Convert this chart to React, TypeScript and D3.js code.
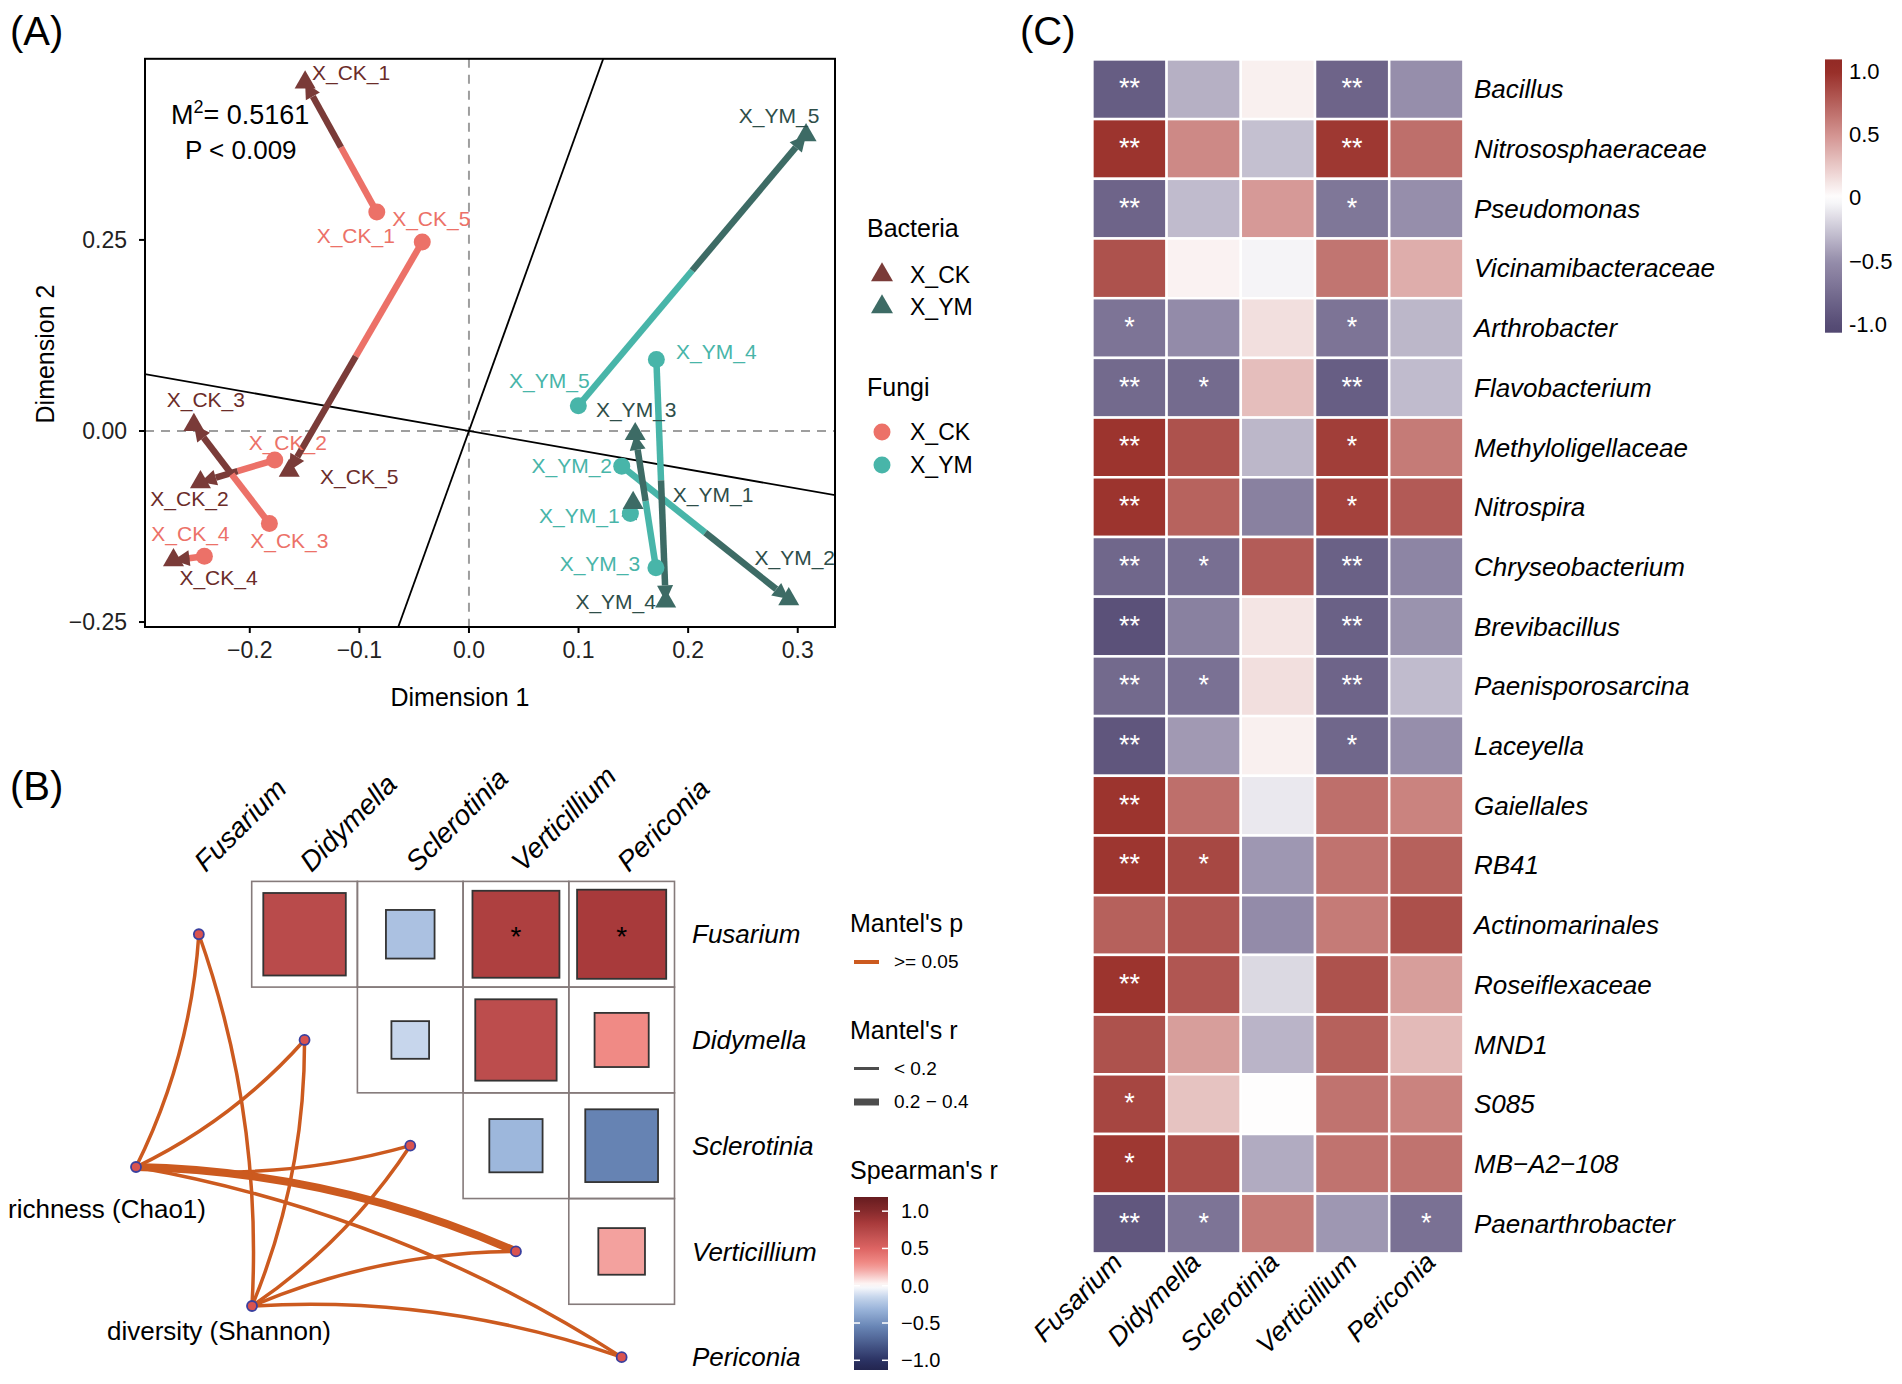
import React from 'react';
import * as d3 from 'd3';

const FONT = '"Liberation Sans", Arial, Helvetica, sans-serif';

// ---------------- Panel A data (Procrustes) ----------------
const sampleIds = ['X_CK_1', 'X_CK_2', 'X_CK_3', 'X_CK_4', 'X_CK_5', 'X_YM_1', 'X_YM_2', 'X_YM_3', 'X_YM_4', 'X_YM_5'];
const sampleGroup = ['X_CK', 'X_CK', 'X_CK', 'X_CK', 'X_CK', 'X_YM', 'X_YM', 'X_YM', 'X_YM', 'X_YM'];
const bacteriaDim1 = [-0.1495, -0.245, -0.251, -0.2696, -0.164, 0.1498, 0.2918, 0.1517, 0.1795, 0.3076];
const bacteriaDim2 = [0.456, -0.067, 0.008, -0.169, -0.052, -0.094, -0.22, -0.004, -0.223, 0.387];
const fungiDim1 = [-0.0841, -0.1772, -0.1821, -0.2414, -0.0426, 0.1473, 0.1394, 0.1706, 0.171, 0.0998];
const fungiDim2 = [0.2864, -0.038, -0.121, -0.164, 0.2474, -0.108, -0.046, -0.179, 0.0935, 0.033];
const rotationSlope = -0.2516;
const m2Text = '0.5161';
const pText = 'P < 0.009';
const xTicksA = [-0.2, -0.1, 0.0, 0.1, 0.2, 0.3];
const yTicksA = [-0.25, 0.0, 0.25];
// label nudges in pixels (layout)
const bacLabelNudge: [number, number][] = [[46, -10], [-11, 16], [12, -25], [45, 18], [70, 6], [80, -8], [6, -41], [1, -24], [-50, 0], [-27, -20]];
const funLabelNudge: [number, number][] = [[-21, 24], [13, -17], [20, 17], [-14, -23], [9, -23], [-51, 2], [-50, 0], [-56, -4], [60, -8], [-29, -25]];

// ---------------- Panel B data (Mantel + Spearman) ----------------
const fungiTaxa = ['Fusarium', 'Didymella', 'Sclerotinia', 'Verticillium', 'Periconia'];
const spRowVar = ['Fusarium', 'Fusarium', 'Fusarium', 'Fusarium', 'Didymella', 'Didymella', 'Didymella', 'Sclerotinia', 'Sclerotinia', 'Verticillium'];
const spColVar = ['Didymella', 'Sclerotinia', 'Verticillium', 'Periconia', 'Sclerotinia', 'Verticillium', 'Periconia', 'Verticillium', 'Periconia', 'Periconia'];
const spR = [0.72, -0.25, 0.8, 0.84, -0.15, 0.7, 0.31, -0.3, -0.56, 0.23];
const spSig = ['', '', '*', '*', '', '', '', '', '', ''];
const envNames = ['richness (Chao1)', 'diversity (Shannon)'];
const mantelEnv = ['richness (Chao1)', 'richness (Chao1)', 'richness (Chao1)', 'richness (Chao1)', 'richness (Chao1)',
  'diversity (Shannon)', 'diversity (Shannon)', 'diversity (Shannon)', 'diversity (Shannon)', 'diversity (Shannon)'];
const mantelSpec = ['Fusarium', 'Didymella', 'Sclerotinia', 'Verticillium', 'Periconia',
  'Fusarium', 'Didymella', 'Sclerotinia', 'Verticillium', 'Periconia'];
const mantelR = [0.08, 0.1, 0.15, 0.27, 0.12, 0.05, 0.09, 0.07, 0.11, 0.06];
const mantelP = [0.42, 0.35, 0.21, 0.08, 0.3, 0.66, 0.47, 0.52, 0.39, 0.58];
const bBarTicks = [1.0, 0.5, 0.0, -0.5, -1.0];

// ---------------- Panel C data (heatmap) ----------------
const bacteriaTaxa = ['Bacillus', 'Nitrososphaeraceae', 'Pseudomonas', 'Vicinamibacteraceae', 'Arthrobacter', 'Flavobacterium',
  'Methyloligellaceae', 'Nitrospira', 'Chryseobacterium', 'Brevibacillus', 'Paenisporosarcina', 'Laceyella', 'Gaiellales',
  'RB41', 'Actinomarinales', 'Roseiflexaceae', 'MND1', 'S085', 'MB\u2212A2\u2212108', 'Paenarthrobacter'];
const heatR: number[][] = [
  [-0.88, -0.35, 0.07, -0.82, -0.5],
  [0.97, 0.55, -0.28, 0.95, 0.68],
  [-0.82, -0.3, 0.47, -0.68, -0.5],
  [0.82, 0.06, -0.05, 0.65, 0.38],
  [-0.7, -0.52, 0.15, -0.7, -0.32],
  [-0.78, -0.77, 0.3, -0.87, -0.3],
  [0.97, 0.82, -0.32, 0.92, 0.62],
  [0.97, 0.74, -0.6, 0.9, 0.78],
  [-0.8, -0.74, 0.77, -0.85, -0.57],
  [-0.97, -0.6, 0.12, -0.85, -0.48],
  [-0.78, -0.72, 0.15, -0.82, -0.3],
  [-0.93, -0.45, 0.07, -0.8, -0.5],
  [0.97, 0.68, -0.1, 0.68, 0.58],
  [0.96, 0.87, -0.46, 0.66, 0.75],
  [0.75, 0.8, -0.52, 0.62, 0.83],
  [0.97, 0.8, -0.17, 0.82, 0.45],
  [0.82, 0.45, -0.33, 0.75, 0.32],
  [0.88, 0.28, 0.01, 0.66, 0.58],
  [0.95, 0.84, -0.37, 0.66, 0.66],
  [-0.92, -0.7, 0.62, -0.46, -0.72],
];
const heatSig: string[][] = [
  ['**', '', '', '**', ''],
  ['**', '', '', '**', ''],
  ['**', '', '', '*', ''],
  ['', '', '', '', ''],
  ['*', '', '', '*', ''],
  ['**', '*', '', '**', ''],
  ['**', '', '', '*', ''],
  ['**', '', '', '*', ''],
  ['**', '*', '', '**', ''],
  ['**', '', '', '**', ''],
  ['**', '*', '', '**', ''],
  ['**', '', '', '*', ''],
  ['**', '', '', '', ''],
  ['**', '*', '', '', ''],
  ['', '', '', '', ''],
  ['**', '', '', '', ''],
  ['', '', '', '', ''],
  ['*', '', '', '', ''],
  ['*', '', '', '', ''],
  ['**', '*', '', '', '*'],
];
const cBarTicks = [1.0, 0.5, 0, -0.5, -1.0];
const cBarLabels = ['1.0', '0.5', '0', '\u22120.5', '-1.0'];

// ---------------- colours ----------------
const colBacCK = '#7A3B38';
const colBacYM = '#3D6B65';
const colFunCK = '#EC7168';
const colFunYM = '#48B5A9';
const colLblBacCK = '#6B2C29';
const colLblBacYM = '#2E4E49';
const linkColor = '#CC5A1F';

const bScale = d3.scaleLinear<string>()
  .domain([-1.13, -1, -0.56, -0.3, -0.15, 0, 0.23, 0.31, 0.5, 0.72, 0.84, 1, 1.19])
  .range(['#232650', '#2B3263', '#6683B3', '#9DB7DC', '#C7D6EC', '#FFFFFF', '#F3A19E', '#F08A85', '#DD6463', '#B94B4B', '#A83A3B', '#862A2C', '#661C1F'])
  .interpolate(d3.interpolateRgb);
const cScale = d3.scaleLinear<string>()
  .domain([-1.1, -1, -0.5, 0, 0.5, 1, 1.1])
  .range(['#50466F', '#574D76', '#968EAB', '#FFFFFF', '#D39390', '#982E28', '#922A25'])
  .interpolate(d3.interpolateRgb);

const fmtMinus = (s: string) => s.replace('-', '\u2212');

function PanelA() {
  const x = d3.scaleLinear().domain([-0.2956, 0.334]).range([145, 835]);
  const y = d3.scaleLinear().domain([-0.2565, 0.487]).range([627, 58.8]);
  const [x0, x1] = x.range();
  const [y0, y1] = y.range();
  const tri = (cx: number, cy: number, s: number) => {
    const h = s * Math.sqrt(3) / 2;
    return `M${cx},${cy - (2 * h) / 3}L${cx + s / 2},${cy + h / 3}L${cx - s / 2},${cy + h / 3}Z`;
  };
  const m = rotationSlope;
  const big = 3;
  return (
    <g>
      <text x={10} y={45} fontSize={40}>(A)</text>
      <defs>
        <clipPath id="clipA"><rect x={x0} y={y1} width={x1 - x0} height={y0 - y1} /></clipPath>
      </defs>
      <g clipPath="url(#clipA)">
        <line x1={x(0)} x2={x(0)} y1={y1} y2={y0} stroke="#9E9E9E" strokeWidth={2} strokeDasharray="9,7" />
        <line x1={x0} x2={x1} y1={y(0)} y2={y(0)} stroke="#9E9E9E" strokeWidth={2} strokeDasharray="9,7" />
        <line x1={x(-big)} y1={y(-big * m)} x2={x(big)} y2={y(big * m)} stroke="#000" strokeWidth={1.8} />
        <line x1={x(big * m)} y1={y(-big)} x2={x(-big * m)} y2={y(big)} stroke="#000" strokeWidth={1.8} />
        {sampleIds.map((id, i) => {
          const bx = x(bacteriaDim1[i]), by = y(bacteriaDim2[i]);
          const fx = x(fungiDim1[i]), fy = y(fungiDim2[i]);
          const mx = (bx + fx) / 2, my = (by + fy) / 2;
          const ck = sampleGroup[i] === 'X_CK';
          const dark = ck ? colBacCK : colBacYM;
          const light = ck ? colFunCK : colFunYM;
          const ang = Math.atan2(by - fy, bx - fx);
          const L = 16, Wd = 8;
          const ax = bx - L * Math.cos(ang), ay = by - L * Math.sin(ang);
          const p1 = [ax + Wd * Math.sin(ang), ay - Wd * Math.cos(ang)];
          const p2 = [ax - Wd * Math.sin(ang), ay + Wd * Math.cos(ang)];
          return (
            <g key={id}>
              <line x1={fx} y1={fy} x2={mx} y2={my} stroke={light} strokeWidth={6.5} />
              <line x1={mx} y1={my} x2={ax} y2={ay} stroke={dark} strokeWidth={6.5} />
              <path d={`M${bx},${by}L${p1[0]},${p1[1]}L${p2[0]},${p2[1]}Z`} fill={dark} />
            </g>
          );
        })}
        {sampleIds.map((id, i) => {
          const ck = sampleGroup[i] === 'X_CK';
          return (
            <g key={'p' + id}>
              <circle cx={x(fungiDim1[i])} cy={y(fungiDim2[i])} r={8.5} fill={ck ? colFunCK : colFunYM} />
              <path d={tri(x(bacteriaDim1[i]), y(bacteriaDim2[i]), 21)} fill={ck ? colBacCK : colBacYM} />
            </g>
          );
        })}
      </g>
      {sampleIds.map((id, i) => {
        const ck = sampleGroup[i] === 'X_CK';
        return (
          <g key={'l' + id} fontSize={21} textAnchor="middle">
            <text x={x(bacteriaDim1[i]) + bacLabelNudge[i][0]} y={y(bacteriaDim2[i]) + bacLabelNudge[i][1]} dy="0.35em" fill={ck ? colLblBacCK : colLblBacYM}>{id}</text>
            <text x={x(fungiDim1[i]) + funLabelNudge[i][0]} y={y(fungiDim2[i]) + funLabelNudge[i][1]} dy="0.35em" fill={ck ? colFunCK : colFunYM}>{id}</text>
          </g>
        );
      })}
      <text x={171} y={124} fontSize={27}>M<tspan dy={-11} fontSize={18}>2</tspan><tspan dy={11}>= {m2Text}</tspan></text>
      <text x={185} y={159} fontSize={26}>{pText}</text>
      <rect x={x0} y={y1} width={x1 - x0} height={y0 - y1} fill="none" stroke="#000" strokeWidth={2} />
      {xTicksA.map((t) => (
        <g key={'xt' + t}>
          <line x1={x(t)} x2={x(t)} y1={y0} y2={y0 + 6} stroke="#000" strokeWidth={2} />
          <text x={x(t)} y={y0 + 31} fontSize={23} textAnchor="middle" fill="#222">{fmtMinus(t.toFixed(1))}</text>
        </g>
      ))}
      {yTicksA.map((t) => (
        <g key={'yt' + t}>
          <line x1={x0 - 6} x2={x0} y1={y(t)} y2={y(t)} stroke="#000" strokeWidth={2} />
          <text x={x0 - 18} y={y(t)} dy="0.35em" fontSize={23} textAnchor="end" fill="#222">{fmtMinus(t.toFixed(2))}</text>
        </g>
      ))}
      <text x={460} y={706} fontSize={25} textAnchor="middle">Dimension 1</text>
      <text transform="translate(54,354) rotate(-90)" fontSize={25} textAnchor="middle">Dimension 2</text>
      {/* legend */}
      <g fontSize={23}>
        <text x={867} y={237} fontSize={25}>Bacteria</text>
        <path d={tri(882, 275, 22)} fill={colBacCK} />
        <text x={910} y={283}>X_CK</text>
        <path d={tri(882, 307, 22)} fill={colBacYM} />
        <text x={910} y={315}>X_YM</text>
        <text x={867} y={396} fontSize={25}>Fungi</text>
        <circle cx={882} cy={432} r={8.5} fill={colFunCK} />
        <text x={910} y={440}>X_CK</text>
        <circle cx={882} cy={465} r={8.5} fill={colFunYM} />
        <text x={910} y={473}>X_YM</text>
      </g>
    </g>
  );
}

function PanelB() {
  const xb = d3.scaleBand<string>().domain(fungiTaxa).range([146, 674.5]);
  const yb = d3.scaleBand<string>().domain(fungiTaxa).range([881.4, 1410]);
  const bw = xb.bandwidth();
  const envX = [136, 252];
  const envY = [1167, 1306];
  const nodeOf = (name: string) => ({ x: xb(name)! + bw / 2, y: yb(name)! + bw / 2 });
  const sizeScale = d3.scaleSqrt().domain([0, 1]).range([0, bw * 0.92]);
  const widthScale = d3.scaleThreshold<number, number>().domain([0.2, 0.4]).range([3.5, 8, 10]);
  const barTop = 1197, barBot = 1370;
  const barScale = d3.scaleLinear().domain([-1.13, 1.19]).range([barBot, barTop]);
  const gradStops = d3.range(0, 41).map((k) => -1.13 + (k / 40) * (1.19 + 1.13));
  return (
    <g>
      <text x={10} y={800} fontSize={40}>(B)</text>
      {/* grid cells */}
      {fungiTaxa.map((r, i) => fungiTaxa.map((c, j) => (j > i ? (
        <rect key={r + c} x={xb(c)} y={yb(r)} width={bw} height={bw} fill="none" stroke="#857B7B" strokeWidth={1.6} />
      ) : null)))}
      {spR.map((v, k) => {
        const s = sizeScale(Math.abs(v));
        const cx = xb(spColVar[k])! + bw / 2, cy = yb(spRowVar[k])! + bw / 2;
        return (
          <g key={'sq' + k}>
            <rect x={cx - s / 2} y={cy - s / 2} width={s} height={s} fill={bScale(v)} stroke="#333" strokeWidth={1.8} />
            {spSig[k] ? <text x={cx} y={cy + 12} fontSize={28} textAnchor="middle" fill="#000">{spSig[k]}</text> : null}
          </g>
        );
      })}
      {/* links */}
      {mantelR.map((r, k) => {
        const ei = envNames.indexOf(mantelEnv[k]);
        const sx = envX[ei], sy = envY[ei];
        const t = nodeOf(mantelSpec[k]);
        const dx = t.x - sx, dy = t.y - sy;
        const sign = fungiTaxa.indexOf(mantelSpec[k]) < 3 ? -1 : 1;
        const c = 0.1 * sign;
        const qx = (sx + t.x) / 2 + c * dy, qy = (sy + t.y) / 2 - c * dx;
        return (
          <path key={'lk' + k} d={`M${sx},${sy}Q${qx},${qy} ${t.x},${t.y}`} fill="none"
            stroke={mantelP[k] >= 0.05 ? linkColor : '#1B9E77'} strokeWidth={widthScale(r)} />
        );
      })}
      {fungiTaxa.map((n) => {
        const p = nodeOf(n);
        return <circle key={'nd' + n} cx={p.x} cy={p.y} r={5} fill="#D9534F" stroke="#3A3F9E" strokeWidth={1.8} />;
      })}
      {envNames.map((n, i) => (
        <circle key={'en' + n} cx={envX[i]} cy={envY[i]} r={5} fill="#D9534F" stroke="#3A3F9E" strokeWidth={1.8} />
      ))}
      <text x={8} y={1218} fontSize={26}>{envNames[0]}</text>
      <text x={107} y={1340} fontSize={26}>{envNames[1]}</text>
      {/* column labels */}
      {fungiTaxa.map((n) => (
        <text key={'cl' + n} transform={`translate(${xb(n)! + bw / 2 + 7},${873}) rotate(-45)`} fontSize={28} fontStyle="italic">{n}</text>
      ))}
      {fungiTaxa.map((n) => (
        <text key={'rl' + n} x={692} y={yb(n)! + bw / 2} dy="0.35em" fontSize={26} fontStyle="italic">{n}</text>
      ))}
      {/* legends */}
      <text x={850} y={932} fontSize={25}>Mantel's p</text>
      <line x1={854} x2={879} y1={962} y2={962} stroke={linkColor} strokeWidth={4} />
      <text x={894} y={968} fontSize={19}>&gt;= 0.05</text>
      <text x={850} y={1039} fontSize={25}>Mantel's r</text>
      <line x1={854} x2={879} y1={1068.5} y2={1068.5} stroke="#4D4D4D" strokeWidth={3} />
      <text x={894} y={1075} fontSize={19}>&lt; 0.2</text>
      <line x1={854} x2={879} y1={1102} y2={1102} stroke="#4D4D4D" strokeWidth={7} />
      <text x={894} y={1108} fontSize={19}>0.2 − 0.4</text>
      <text x={850} y={1179} fontSize={25}>Spearman's r</text>
      <defs>
        <linearGradient id="gradB" x1="0" y1="1" x2="0" y2="0">
          {gradStops.map((v, k) => (
            <stop key={k} offset={`${(k / 40) * 100}%`} stopColor={bScale(v)} />
          ))}
        </linearGradient>
      </defs>
      <rect x={854} y={barTop} width={34} height={barBot - barTop} fill="url(#gradB)" />
      {bBarTicks.map((t) => (
        <g key={'bt' + t}>
          <line x1={854} x2={860} y1={barScale(t)} y2={barScale(t)} stroke="#fff" strokeWidth={1.5} />
          <line x1={882} x2={888} y1={barScale(t)} y2={barScale(t)} stroke="#fff" strokeWidth={1.5} />
          <text x={901} y={barScale(t)} dy="0.35em" fontSize={20}>{fmtMinus(t.toFixed(1))}</text>
        </g>
      ))}
    </g>
  );
}

function PanelC() {
  const xc = d3.scaleBand<string>().domain(fungiTaxa).range([1092.4, 1463.4]);
  const yc = d3.scaleBand<string>().domain(bacteriaTaxa).range([59.4, 1253.4]);
  const labelX = d3.scalePoint<string>().domain(fungiTaxa).range([1124, 1437]);
  const cw = xc.bandwidth(), ch = yc.bandwidth();
  const barTop = 59.4, barBot = 332.7;
  const barScale = d3.scaleLinear().domain([-1.07, 1.097]).range([barBot, barTop]);
  const gradStops = d3.range(0, 41).map((k) => -1.07 + (k / 40) * (1.097 + 1.07));
  return (
    <g>
      <text x={1020} y={45} fontSize={40}>(C)</text>
      {bacteriaTaxa.map((b, i) => fungiTaxa.map((f, j) => (
        <g key={b + f}>
          <rect x={xc(f)} y={yc(b)} width={cw} height={ch} fill={cScale(heatR[i][j])} stroke="#fff" strokeWidth={2.5} />
          {heatSig[i][j] ? (
            <text x={xc(f)! + cw / 2} y={yc(b)! + ch / 2 + 8} fontSize={27} textAnchor="middle" fill="#fff">{heatSig[i][j]}</text>
          ) : null}
        </g>
      )))}
      {bacteriaTaxa.map((b) => (
        <text key={'r' + b} x={1474} y={yc(b)! + ch / 2} dy="0.35em" fontSize={26} fontStyle="italic">{b}</text>
      ))}
      {fungiTaxa.map((f) => (
        <text key={'c' + f} transform={`translate(${labelX(f)},${1264}) rotate(-45)`} fontSize={27} fontStyle="italic" textAnchor="end">{f}</text>
      ))}
      <defs>
        <linearGradient id="gradC" x1="0" y1="1" x2="0" y2="0">
          {gradStops.map((v, k) => (
            <stop key={k} offset={`${(k / 40) * 100}%`} stopColor={cScale(v)} />
          ))}
        </linearGradient>
      </defs>
      <rect x={1825} y={barTop} width={17} height={barBot - barTop} fill="url(#gradC)" />
      {cBarTicks.map((t, k) => (
        <text key={'ct' + k} x={1849} y={barScale(t)} dy="0.35em" fontSize={22}>{cBarLabels[k]}</text>
      ))}
    </g>
  );
}

export default function App() {
  return (
    <svg width={1902} height={1384} style={{ position: 'absolute', left: 0, top: 0, background: '#fff' }} fontFamily={FONT}>
      <rect x={0} y={0} width={1902} height={1384} fill="#fff" />
      <PanelA />
      <PanelB />
      <PanelC />
    </svg>
  );
}
